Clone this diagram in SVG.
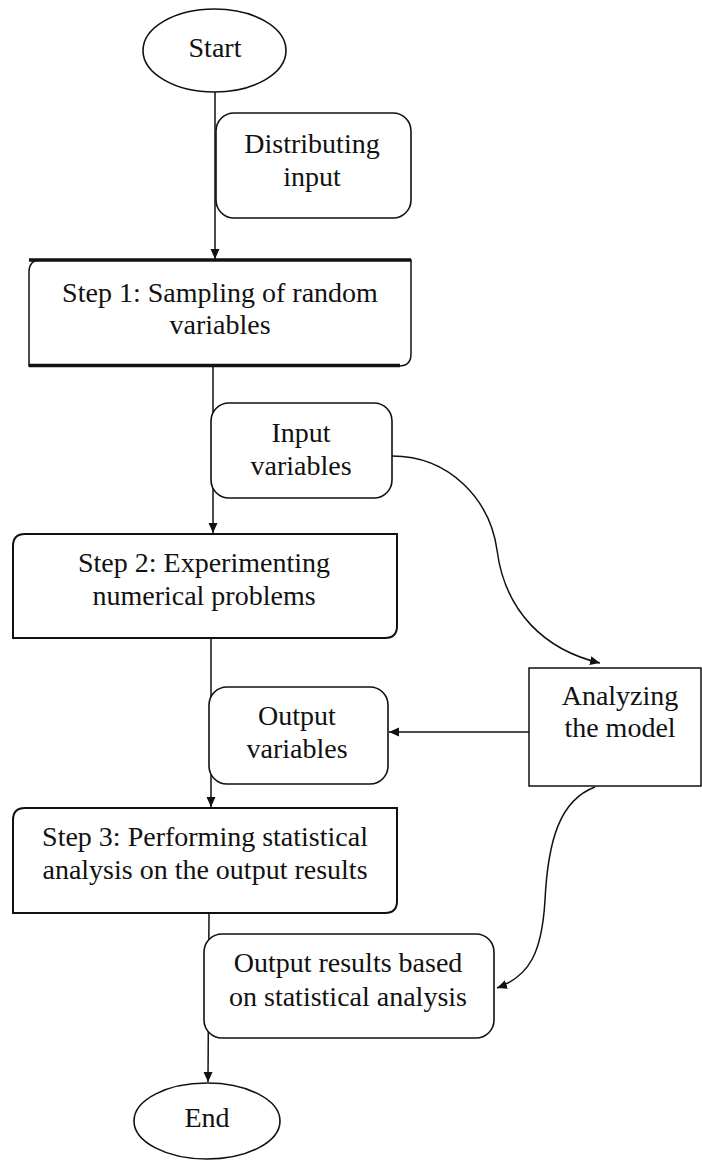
<svg xmlns="http://www.w3.org/2000/svg" width="702" height="1162" viewBox="0 0 702 1162">
<style>
text{font-family:'Liberation Serif','Times New Roman','DejaVu Serif',serif;font-size:28px;fill:#111;text-anchor:middle}
.rb{fill:#fff;stroke:#111;stroke-width:1.6}
.st{fill:#fff;stroke:#111;stroke-width:2}
.ln{fill:none;stroke:#111;stroke-width:1.5}
</style>
<defs>
<marker id="ah" viewBox="0 0 10 10" refX="10" refY="5" markerWidth="10" markerHeight="10" markerUnits="userSpaceOnUse" orient="auto">
<path d="M0,0.5 L10,5 L0,9.5 Z" fill="#111"/>
</marker>
</defs>
<g id="connectors">
<line class="ln" x1="215" y1="92" x2="215" y2="259" marker-end="url(#ah)"/>
<line class="ln" x1="213" y1="367" x2="213" y2="533" marker-end="url(#ah)"/>
<line class="ln" x1="211" y1="639" x2="211" y2="807" marker-end="url(#ah)"/>
<line class="ln" x1="209" y1="914" x2="208" y2="1082" marker-end="url(#ah)"/>
<path class="ln" d="M392,456 C450,456 490,500 497,550 C505,612 545,650 600,663" marker-end="url(#ah)"/>
<line class="ln" x1="529" y1="732" x2="389" y2="732" marker-end="url(#ah)"/>
<path class="ln" d="M595,787 C560,800 548,840 545,900 C542,952 530,976 497,988" marker-end="url(#ah)"/>
</g>
<g id="start">
<ellipse class="rb" cx="214.5" cy="50.5" rx="71.5" ry="41.5"/>
<text x="215" y="57" font-family="Liberation Serif">Start</text>
</g>
<g id="distributing">
<rect class="rb" x="216" y="113" width="195" height="105" rx="18"/>
<text x="312" y="153">Distributing</text>
<text x="312" y="186">input</text>
</g>
<g id="step1">
<path d="M41,260 H411 V354 Q411,366 399,366 H29 V272 Q29,260 41,260 Z" fill="#fff" stroke="#111" stroke-width="1.5"/>
<line x1="29" y1="260" x2="411" y2="260" stroke="#111" stroke-width="3.5"/>
<line x1="29" y1="365.5" x2="400" y2="365.5" stroke="#111" stroke-width="3.5"/>
<text x="220" y="302">Step 1: Sampling of random</text>
<text x="220" y="334">variables</text>
</g>
<g id="inputvars">
<rect class="rb" x="211" y="403" width="181" height="95" rx="18"/>
<text x="301" y="442">Input</text>
<text x="301" y="475">variables</text>
</g>
<g id="step2">
<path class="st" d="M25,534 H397 V626 Q397,638 385,638 H13 V546 Q13,534 25,534 Z"/>
<text x="204" y="572">Step 2: Experimenting</text>
<text x="204" y="605">numerical problems</text>
</g>
<g id="analyzing">
<rect x="529" y="668" width="172" height="118" fill="#fff" stroke="#111" stroke-width="1.5"/>
<text x="620" y="705">Analyzing</text>
<text x="620" y="737">the model</text>
</g>
<g id="outputvars">
<rect class="rb" x="209" y="687" width="179" height="97" rx="18"/>
<text x="297" y="725">Output</text>
<text x="297" y="758">variables</text>
</g>
<g id="step3">
<path class="st" d="M25,808 H397 V901 Q397,913 385,913 H13 V820 Q13,808 25,808 Z"/>
<text x="205" y="846">Step 3: Performing statistical</text>
<text x="205" y="879">analysis on the output results</text>
</g>
<g id="outputresults">
<rect class="rb" x="204" y="934" width="290" height="104" rx="18"/>
<text x="348" y="972">Output results based</text>
<text x="348" y="1006">on statistical analysis</text>
</g>
<g id="end">
<ellipse class="rb" cx="207" cy="1121" rx="73" ry="38"/>
<text x="207" y="1127">End</text>
</g>
</svg>
